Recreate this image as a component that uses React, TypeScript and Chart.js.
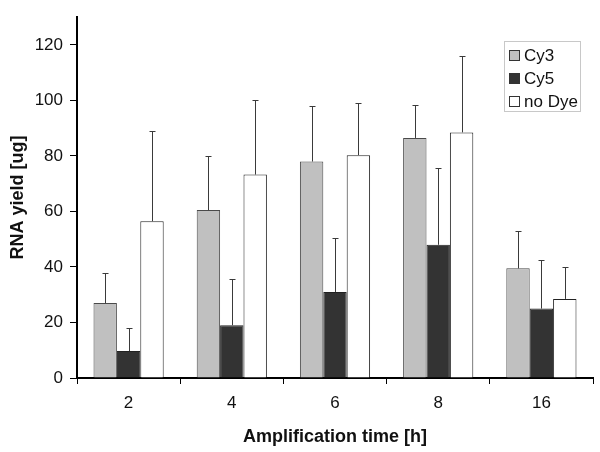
import React, { useEffect, useRef } from "react";
import { Chart, registerables } from "chart.js";

Chart.register(...registerables);

const categories = ["2", "4", "6", "8", "16"];
const cy3 = [27, 60.5, 78, 86.5, 39.5];
const cy3Err = [11, 19.5, 20, 12, 13.5];
const cy5 = [9.7, 19, 31, 48, 25];
const cy5Err = [8.3, 16.8, 19.4, 27.5, 17.6];
const noDye = [56.5, 73.3, 80.3, 88.5, 28.5];
const noDyeErr = [32.5, 26.7, 18.7, 27.5, 11.5];
const yTicks = [0, 20, 40, 60, 80, 100, 120];
const seriesNames = ["Cy3", "Cy5", "no Dye"];

const FONT = "'Liberation Sans', Arial, sans-serif";

const errorBarPlugin = {
  id: "errorBars",
  afterDatasetsDraw(chart: any) {
    const ctx = chart.ctx;
    const y = chart.scales.y;
    chart.data.datasets.forEach((ds: any, di: number) => {
      const meta = chart.getDatasetMeta(di);
      meta.data.forEach((bar: any, i: number) => {
        const top = Math.round(y.getPixelForValue(ds.data[i] + ds.errors[i])) + 0.5;
        const base = bar.y;
        const x = Math.round(bar.x) + 0.5;
        ctx.save();
        ctx.strokeStyle = "#3a3a3a";
        ctx.lineWidth = 1;
        ctx.beginPath();
        ctx.moveTo(x, base);
        ctx.lineTo(x, top);
        ctx.moveTo(x - 3, top);
        ctx.lineTo(x + 3, top);
        ctx.stroke();
        ctx.restore();
      });
    });
  },
};

const legendPlugin = {
  id: "boxLegend",
  afterDraw(chart: any) {
    const ctx = chart.ctx;
    const x0 = 504, y0 = 41, w = 76, h = 70;
    ctx.save();
    ctx.fillStyle = "#ffffff";
    ctx.fillRect(x0, y0, w, h);
    ctx.strokeStyle = "#c8c8c8";
    ctx.lineWidth = 1;
    ctx.strokeRect(x0 + 0.5, y0 + 0.5, w, h);
    ctx.font = `17px ${FONT}`;
    ctx.textBaseline = "middle";
    chart.data.datasets.forEach((ds: any, i: number) => {
      const cy = y0 + 14 + i * 23;
      ctx.fillStyle = ds.backgroundColor;
      ctx.fillRect(x0 + 5, cy - 5, 11, 11);
      ctx.strokeStyle = "#333";
      ctx.strokeRect(x0 + 5.5, cy - 4.5, 10, 10);
      ctx.fillStyle = "#111";
      ctx.fillText(seriesNames[i], x0 + 20, cy + 1);
    });
    ctx.restore();
  },
};

export default function App() {
  const ref = useRef<HTMLCanvasElement>(null);
  useEffect(() => {
    if (!ref.current) return;
    const chart = new Chart(ref.current, {
      type: "bar",
      data: {
        labels: categories,
        datasets: [
          { label: seriesNames[0], data: cy3, errors: cy3Err, backgroundColor: "#c0c0c0", borderColor: "#4a4a4a", borderWidth: 1 } as any,
          { label: seriesNames[1], data: cy5, errors: cy5Err, backgroundColor: "#333333", borderColor: "#222222", borderWidth: 1 } as any,
          { label: seriesNames[2], data: noDye, errors: noDyeErr, backgroundColor: "#ffffff", borderColor: "#222222", borderWidth: 1 } as any,
        ],
      },
      options: {
        animation: false,
        responsive: false,
        maintainAspectRatio: false,
        layout: { padding: { top: 14, right: 7, left: 0, bottom: 0 } },
        datasets: { bar: { categoryPercentage: 0.68, barPercentage: 1 } },
        plugins: { legend: { display: false }, tooltip: { enabled: false } },
        scales: {
          x: {
            grid: { display: true, drawOnChartArea: false, drawTicks: true, tickLength: 6, color: "#000", offset: true },
            border: { display: true, color: "#000", width: 2 },
            ticks: { color: "#111", font: { family: FONT, size: 17 }, padding: 9 },
            title: { display: true, text: "Amplification time [h]", color: "#111", font: { family: FONT, size: 18, weight: "bold" }, padding: { top: 6 } },
            afterFit(scale: any) { scale.height = 74; },
          },
          y: {
            min: 0,
            max: 130,
            afterBuildTicks(scale: any) { scale.ticks = yTicks.map((v) => ({ value: v })); },
            grid: { display: true, drawOnChartArea: false, drawTicks: true, tickLength: 7, color: "#000" },
            border: { display: true, color: "#000", width: 2 },
            ticks: { color: "#111", font: { family: FONT, size: 17 }, padding: 7 },
            title: { display: true, text: "RNA yield [ug]", color: "#111", font: { family: FONT, size: 18, weight: "bold" }, padding: { top: 7, bottom: 8 } },
            afterFit(scale: any) { scale.width = 77; },
          },
        },
      } as any,
      plugins: [errorBarPlugin, legendPlugin],
    });
    return () => chart.destroy();
  }, []);
  return (
    <div style={{ position: "fixed", left: 0, top: 0, width: 600, height: 452, background: "#fff" }}>
      <canvas ref={ref} width={600} height={452} style={{ width: 600, height: 452 }} />
    </div>
  );
}
